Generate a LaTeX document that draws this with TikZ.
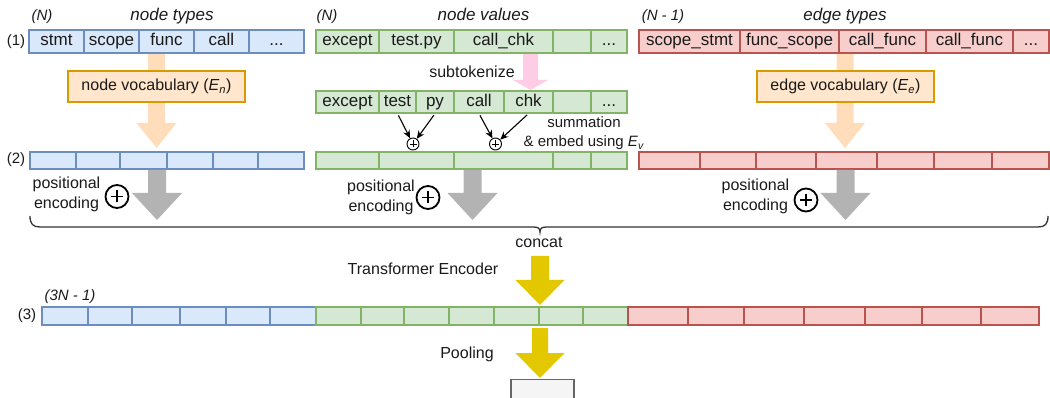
\documentclass[tikz,border=0pt]{standalone}
\usepackage{fontspec}
\setmainfont{Liberation Sans}
\usetikzlibrary{arrows.meta}
\definecolor{bfill}{HTML}{DAE8FC}\definecolor{bline}{HTML}{6C8EBF}
\definecolor{gfill}{HTML}{D5E8D4}\definecolor{gline}{HTML}{82B366}
\definecolor{rfill}{HTML}{F8CECC}\definecolor{rline}{HTML}{B85450}
\definecolor{ofill}{HTML}{FFE6CC}\definecolor{oline}{HTML}{D79B00}
\definecolor{peacharr}{HTML}{FFDDBB}
\definecolor{pinkarr}{HTML}{FFCCE6}
\definecolor{grayarr}{HTML}{B3B3B3}
\definecolor{yelarr}{HTML}{E3C800}
\definecolor{boxfill}{HTML}{F5F5F5}\definecolor{boxline}{HTML}{666666}
\definecolor{txt}{HTML}{1A1A1A}
\newcommand\fcell{\fontsize{17}{20}\selectfont}
\newcommand\flab{\fontsize{16}{20}\selectfont}
\newcommand\fsmall{\fontsize{15}{18}\selectfont}
\newcommand\cellnode[7]{%
  \pgfmathsetmacro\myCW{#4-#3}%
  \pgfmathsetmacro\myCX{(#3+#4)/2}%
  \node[#1, minimum width=\myCW pt, minimum height=#6pt] (#2) at (\myCX,#5) {#7};}
\newcommand\blockarr[7]{%
  \fill[#1] (#2-#6,#3) -- (#2+#6,#3) -- (#2+#6,#4) -- (#2+#7,#4) -- (#2,#5)
    -- (#2-#7,#4) -- (#2-#6,#4) -- cycle;}
\newcommand\plusin[3]{%
  \draw[line width=#3] ([xshift=-#2]#1.center) -- ([xshift=#2]#1.center);
  \draw[line width=#3] ([yshift=-#2]#1.center) -- ([yshift=#2]#1.center);}
\tikzset{
  cellbase/.style={line width=1.2pt, inner sep=0pt, font=\fcell, text=txt,
    text height=12pt, text depth=3.5pt},
  cellB/.style={cellbase, draw=bline, fill=bfill},
  cellG/.style={cellbase, draw=gline, fill=gfill},
  cellR/.style={cellbase, draw=rline, fill=rfill},
  vocab/.style={draw=oline, fill=ofill, line width=1.2pt, font=\flab, text=txt,
    minimum width=177pt, minimum height=31pt, inner sep=0pt},
  lab/.style={font=\flab, text=txt, inner sep=0pt},
  smalllab/.style={font=\fsmall, text=txt, inner sep=0pt},
  ttl/.style={font=\fcell\itshape, text=txt, inner sep=0pt, anchor=base},
  ttlsmall/.style={font=\fsmall\itshape, text=txt, inner sep=0pt, anchor=base},
  bigplus/.style={circle, draw=black, line width=1.8pt, minimum size=23pt, inner sep=0pt},
  smallplus/.style={circle, draw=black, line width=0.9pt, minimum size=12pt, inner sep=0pt},
  tokarr/.style={line width=1.1pt, -{Stealth[length=8pt,width=7pt]}, shorten <=2pt},
  bracestyle/.style={draw=black!80, line width=1.3pt},
}
\begin{document}
\begin{tikzpicture}[x=1pt,y=-1pt]
\useasboundingbox (0,0) rectangle (1050,398);
\clip (0,0) rectangle (1050,398);

% ---- titles
\node[ttlsmall] (tN1) at (42,21) {(N)};
\node[ttl] (tnt) at (172,21) {node types};
\node[ttlsmall] (tN2) at (327,21) {(N)};
\node[ttl] (tnv) at (483.5,21) {node values};
\node[ttlsmall] (tN3) at (663,21) {(N - 1)};
\node[ttl] (tet) at (845,21) {edge types};

\node[smalllab] (l1) at (16,41.5) {(1)};
\node[smalllab] (l2) at (16,160) {(2)};
\node[smalllab] (l3) at (27,316) {(3)};
\node[ttlsmall] (t3n) at (70,300) {(3N - 1)};

% ---- peach arrows and vocab boxes
\blockarr{peacharr}{156.5}{53}{123}{148}{8.5}{20}
\blockarr{peacharr}{845}{53}{123}{148}{8.5}{20}
\node[vocab] (nvoc) at (156.5,86.5) {node vocabulary (\textit{E}\textsubscript{\textit{n}})};
\node[vocab] (evoc) at (845.5,86.5) {edge vocabulary (\textit{E}\textsubscript{\textit{e}})};

% ---- pink arrow
\blockarr{pinkarr}{530.5}{54}{80}{90}{7.5}{17.5}
\node[lab] (subt) at (472,72) {subtokenize};

% ---- summation labels
\node[smalllab, anchor=base] (summ) at (584,128) {summation};
\node[smalllab, anchor=base] (embd) at (584,147) {\& embed using \textit{E}\textsubscript{\textit{v}}};

% ---- row 1
\cellnode{cellB}{b1a}{29}{84}{41.5}{23}{stmt}
\cellnode{cellB}{b1b}{84}{139}{41.5}{23}{scope}
\cellnode{cellB}{b1c}{139}{194}{41.5}{23}{func}
\cellnode{cellB}{b1d}{194}{249}{41.5}{23}{call}
\cellnode{cellB}{b1e}{249}{304}{41.5}{23}{...}

\cellnode{cellG}{g1a}{316}{379}{41.5}{23}{except}
\cellnode{cellG}{g1b}{379}{454}{41.5}{23}{test.py}
\cellnode{cellG}{g1c}{454}{553}{41.5}{23}{call\_chk}
\cellnode{cellG}{g1d}{553}{591}{41.5}{23}{}
\cellnode{cellG}{g1e}{591}{627}{41.5}{23}{...}

\cellnode{cellR}{r1a}{639}{740}{41.5}{23}{scope\_stmt}
\cellnode{cellR}{r1b}{740}{839}{41.5}{23}{func\_scope}
\cellnode{cellR}{r1c}{839}{926}{41.5}{23}{call\_func}
\cellnode{cellR}{r1d}{926}{1013}{41.5}{23}{call\_func}
\cellnode{cellR}{r1e}{1013}{1049}{41.5}{23}{...}

% ---- row 1b (subtokens)
\cellnode{cellG}{s1a}{316}{379}{102}{22}{except}
\cellnode{cellG}{s1b}{379}{416}{102}{22}{test}
\cellnode{cellG}{s1c}{416}{454}{102}{22}{py}
\cellnode{cellG}{s1d}{454}{504}{102}{22}{call}
\cellnode{cellG}{s1e}{504}{553}{102}{22}{chk}
\cellnode{cellG}{s1f}{553}{591}{102}{22}{}
\cellnode{cellG}{s1g}{591}{627}{102}{22}{...}

% ---- summation circles
\node[smallplus] (sumA) at (413,144) {};
\node[smallplus] (sumB) at (495.5,144) {};
\plusin{sumA}{3.5pt}{0.9pt}
\plusin{sumB}{3.5pt}{0.9pt}
\draw[tokarr] (s1b.south) -- (sumA);
\draw[tokarr] (s1c.south) -- (sumA);
\draw[tokarr] (s1d.south) -- (sumB);
\draw[tokarr] (s1e.south) -- (sumB);

% ---- row 2
\cellnode{cellB}{b2a}{30}{76}{160.5}{17}{}
\cellnode{cellB}{b2b}{76}{120}{160.5}{17}{}
\cellnode{cellB}{b2c}{120}{167}{160.5}{17}{}
\cellnode{cellB}{b2d}{167}{213}{160.5}{17}{}
\cellnode{cellB}{b2e}{213}{258}{160.5}{17}{}
\cellnode{cellB}{b2f}{258}{304}{160.5}{17}{}

\cellnode{cellG}{g2a}{316}{379}{160.5}{17}{}
\cellnode{cellG}{g2b}{379}{454}{160.5}{17}{}
\cellnode{cellG}{g2c}{454}{553}{160.5}{17}{}
\cellnode{cellG}{g2d}{553}{591}{160.5}{17}{}
\cellnode{cellG}{g2e}{591}{627}{160.5}{17}{}

\cellnode{cellR}{r2a}{639}{700}{160.5}{17}{}
\cellnode{cellR}{r2b}{700}{756}{160.5}{17}{}
\cellnode{cellR}{r2c}{756}{816}{160.5}{17}{}
\cellnode{cellR}{r2d}{816}{877}{160.5}{17}{}
\cellnode{cellR}{r2e}{877}{934}{160.5}{17}{}
\cellnode{cellR}{r2f}{934}{992}{160.5}{17}{}
\cellnode{cellR}{r2g}{992}{1049}{160.5}{17}{}

% ---- gray arrows + positional encoding
\blockarr{grayarr}{157}{170}{193}{220}{9}{25}
\blockarr{grayarr}{472.5}{170}{193}{220}{9}{25}
\blockarr{grayarr}{845.5}{170}{193}{220}{9}{25}

\node[bigplus] (peA) at (117,196.5) {};
\node[bigplus] (peB) at (428,197.5) {};
\node[bigplus] (peC) at (806,200) {};
\plusin{peA}{6pt}{1.8pt}
\plusin{peB}{6pt}{1.8pt}
\plusin{peC}{6pt}{1.8pt}

\node[lab, anchor=base] (posA1) at (66.5,189) {positional};
\node[lab, anchor=base] (posA2) at (66.5,208.5) {encoding};
\node[lab, anchor=base] (posB1) at (381,192) {positional};
\node[lab, anchor=base] (posB2) at (381,211.5) {encoding};
\node[lab, anchor=base] (posC1) at (755.5,190.5) {positional};
\node[lab, anchor=base] (posC2) at (755.5,211) {encoding};

% ---- brace
\draw[bracestyle] (30,216) .. controls (30,224) and (33,227) .. (40,227) -- (533,227)
  .. controls (538,227) and (540,228) .. (540,232)
  .. controls (540,228) and (542,227) .. (547,227) -- (1038,227)
  .. controls (1045,227) and (1048,224) .. (1048,216);
\node[lab, anchor=base] (concat) at (539,248) {concat};

% ---- transformer encoder
\blockarr{yelarr}{540}{256}{280}{305}{9}{24.5}
\node[lab, anchor=base] (tenc) at (423,275) {Transformer Encoder};

% ---- row 3
\cellnode{cellB}{b3a}{42}{88}{316}{18}{}
\cellnode{cellB}{b3b}{88}{132}{316}{18}{}
\cellnode{cellB}{b3c}{132}{180}{316}{18}{}
\cellnode{cellB}{b3d}{180}{226}{316}{18}{}
\cellnode{cellB}{b3e}{226}{270}{316}{18}{}
\cellnode{cellB}{b3f}{270}{316}{316}{18}{}

\cellnode{cellG}{g3a}{316}{361}{316}{18}{}
\cellnode{cellG}{g3b}{361}{404}{316}{18}{}
\cellnode{cellG}{g3c}{404}{449}{316}{18}{}
\cellnode{cellG}{g3d}{449}{494}{316}{18}{}
\cellnode{cellG}{g3e}{494}{539}{316}{18}{}
\cellnode{cellG}{g3f}{539}{583}{316}{18}{}
\cellnode{cellG}{g3g}{583}{628}{316}{18}{}

\cellnode{cellR}{r3a}{628}{688}{316}{18}{}
\cellnode{cellR}{r3b}{688}{744}{316}{18}{}
\cellnode{cellR}{r3c}{744}{804}{316}{18}{}
\cellnode{cellR}{r3d}{804}{865}{316}{18}{}
\cellnode{cellR}{r3e}{865}{922}{316}{18}{}
\cellnode{cellR}{r3f}{922}{981}{316}{18}{}
\cellnode{cellR}{r3g}{981}{1039}{316}{18}{}

% ---- pooling
\blockarr{yelarr}{540}{328}{353}{378}{8}{24.5}
\node[lab, anchor=base] (pool) at (467,358) {Pooling};
\node[draw=boxline, fill=boxfill, line width=1.2pt, minimum width=63pt, minimum height=30pt,
  anchor=north, inner sep=0pt] (outbox) at (542.5,379) {};
\end{tikzpicture}
\end{document}
